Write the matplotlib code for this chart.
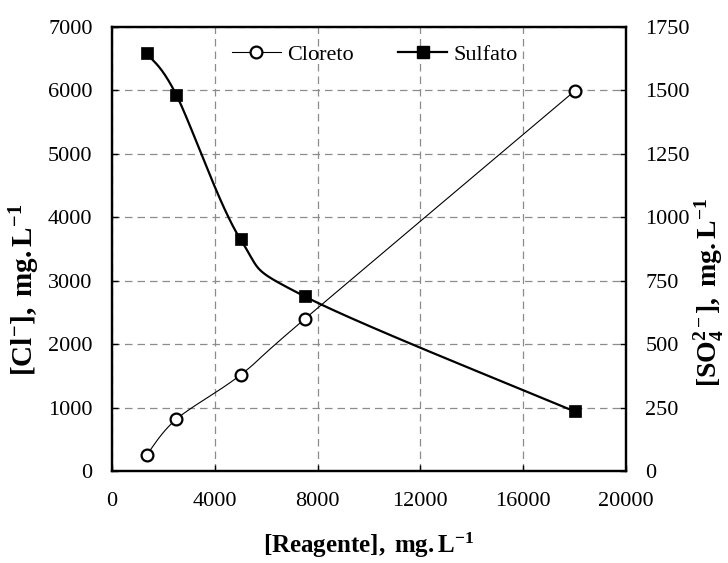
import numpy as np
import matplotlib
matplotlib.use("Agg")
import matplotlib.pyplot as plt
from matplotlib.lines import Line2D

plt.rcParams['font.family'] = ['Liberation Serif', 'DejaVu Serif']
plt.rcParams['mathtext.fontset'] = 'custom'
plt.rcParams['mathtext.rm'] = 'Liberation Serif'
plt.rcParams['mathtext.bf'] = 'Liberation Serif:bold'
plt.rcParams['mathtext.it'] = 'Liberation Serif:italic'

# data
reagente = [1350, 2500, 5000, 7500, 18000]
cloreto = [252, 815, 1514, 2397, 5990]
sulfato = [1646, 1483, 913, 688, 235]

x_ticks = [0, 4000, 8000, 12000, 16000, 20000]
y_left_ticks = [0, 1000, 2000, 3000, 4000, 5000, 6000, 7000]
y_right_ticks = [0, 250, 500, 750, 1000, 1250, 1500, 1750]


def smooth(xs, ys, n=60):
    """Excel-like smoothed line (cubic Bezier, Catmull-Rom control points)."""
    xs = np.asarray(xs, float)
    ys = np.asarray(ys, float)
    px = np.concatenate([[xs[0]], xs, [xs[-1]]])
    py = np.concatenate([[ys[0]], ys, [ys[-1]]])
    outx, outy = [], []
    t = np.linspace(0, 1, n)
    for i in range(1, len(px) - 2):
        p0x, p1x, p2x, p3x = px[i - 1], px[i], px[i + 1], px[i + 2]
        p0y, p1y, p2y, p3y = py[i - 1], py[i], py[i + 1], py[i + 2]
        c1x = p1x + (p2x - p0x) / 6
        c1y = p1y + (p2y - p0y) / 6
        c2x = p2x - (p3x - p1x) / 6
        c2y = p2y - (p3y - p1y) / 6
        bx = (1 - t) ** 3 * p1x + 3 * (1 - t) ** 2 * t * c1x + 3 * (1 - t) * t ** 2 * c2x + t ** 3 * p2x
        by = (1 - t) ** 3 * p1y + 3 * (1 - t) ** 2 * t * c1y + 3 * (1 - t) * t ** 2 * c2y + t ** 3 * p2y
        outx.extend(bx)
        outy.extend(by)
    return np.array(outx), np.array(outy)


W, H = 728, 563
fig = plt.figure(figsize=(W / 100, H / 100), dpi=100)
L, R, T, B = 112, 626, 27, 471
ax = fig.add_axes([L / W, 1 - B / H, (R - L) / W, (B - T) / H])
ax2 = ax.twinx()

fs = 16

# Cloreto
sx, sy = smooth(reagente, cloreto)
ax.plot(sx, sy, color='black', lw=0.8, zorder=3)
ax.plot(reagente, cloreto, linestyle='none', marker='o', ms=8.5, mfc='white',
        mec='black', mew=1.6, zorder=4)

# Sulfato
tx, ty = smooth(reagente, sulfato)
ax2.plot(tx, ty, color='black', lw=1.6, zorder=3)
ax2.plot(reagente, sulfato, linestyle='none', marker='s', ms=9, mfc='black',
         mec='black', mew=0.5, zorder=4)

ax.set_xlim(0, 20000)
ax.set_ylim(0, 7000)
ax2.set_ylim(0, 1750)
ax.set_xticks(x_ticks)
ax.set_yticks(y_left_ticks)
ax2.set_yticks(y_right_ticks)

ax.grid(True, color='#8c8c8c', linestyle=(0, (6, 4)), linewidth=0.9)
ax.set_axisbelow(True)

for a in (ax, ax2):
    for s in a.spines.values():
        s.set_linewidth(1.6)

ax.tick_params(axis='x', direction='in', length=4, width=1, labelsize=fs, pad=15)
ax.tick_params(axis='y', direction='in', length=4, width=1, labelsize=fs, pad=14)
ax2.tick_params(axis='y', direction='in', length=4, width=1, labelsize=fs, pad=14)

ax.set_xlabel(r'$\mathbf{[Reagente],\ mg.L^{-1}}$', fontsize=18)
ax.set_ylabel(r'$\mathbf{[Cl^{-}],\ mg.L^{-1}}$', fontsize=21)
ax2.set_ylabel(r'$\mathbf{[SO_4^{2-}],\ mg.L^{-1}}$', fontsize=20, rotation=90)

ax.xaxis.label.set_va('center')
ax.yaxis.label.set_va('center')
ax2.yaxis.label.set_va('center')
ax.xaxis.set_label_coords((369 - L) / (R - L), (B - 545) / (B - T))
ax.yaxis.set_label_coords((25 - L) / (R - L), (B - 290) / (B - T))
ax2.yaxis.set_label_coords((709 - L) / (R - L), (B - 293) / (B - T))

handles = [
    Line2D([], [], color='black', lw=0.8, marker='o', ms=8.5, mfc='white', mec='black', mew=1.6),
    Line2D([], [], color='black', lw=1.6, marker='s', ms=9, mfc='black', mec='black'),
]
ax2.legend(handles, ['Cloreto', 'Sulfato'], loc='center', ncol=2, frameon=False,
           fontsize=fs, handlelength=2.2, handletextpad=0.3, columnspacing=2.0,
           bbox_to_anchor=((375 - L) / (R - L), (B - 55) / (B - T)))

fig.savefig('out.png', dpi=100)
